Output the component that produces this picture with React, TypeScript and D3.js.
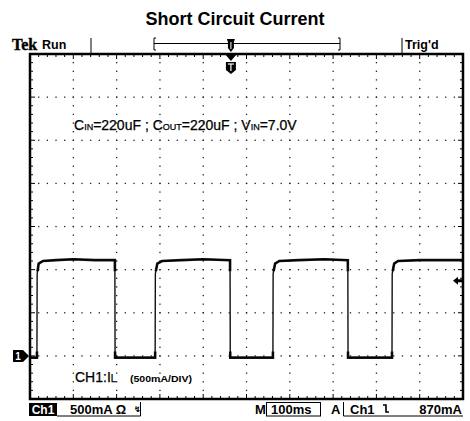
import React from "react";
import { scaleLinear, line, range } from "d3";

// trace: time in ms, current in A
const traceTime = [0, 16, 16.5, 20, 30, 60, 100, 150, 196, 196.5, 289, 289.5, 294, 305, 350, 400, 462, 462.5, 561, 561.5, 566, 576, 620, 680, 734, 734.5, 836, 836.5, 841, 850, 900, 1000];
const traceAmps = [-0.02, -0.02, 0.95, 1.07, 1.1, 1.11, 1.12, 1.11, 1.11, -0.02, -0.02, 0.95, 1.07, 1.1, 1.11, 1.12, 1.11, -0.02, -0.02, 0.95, 1.07, 1.1, 1.11, 1.12, 1.11, -0.02, -0.02, 0.95, 1.07, 1.1, 1.11, 1.11];

const hDivs = 10;
const vDivs = 8;
const msPerDiv = 100;
const ampsPerDiv = 0.5;
const groundDiv = 7; // ground marker 7 divs below top
const trigLevel = 0.87;
const trigTime = 464;

const W = 470;
const H = 421;
const left = 30, right = 463, top = 54, bottom = 399;

const x = scaleLinear().domain([0, hDivs * msPerDiv]).range([left, right]);
const y = scaleLinear()
  .domain([-(vDivs - groundDiv) * ampsPerDiv, groundDiv * ampsPerDiv])
  .range([bottom, top]);

const trace = line<number>()
  .x((d, i) => x(traceTime[i]))
  .y((d) => y(d));

const font = "'Liberation Sans', Arial, sans-serif";

export default function App() {
  const dx = (right - left) / hDivs;
  const dy = (bottom - top) / vDivs;
  const minorX = range(0, hDivs * 5 + 1).map((i) => left + (i * dx) / 5);
  const minorY = range(0, vDivs * 5 + 1).map((i) => top + (i * dy) / 5);
  const majX = range(1, hDivs).map((i) => left + i * dx);
  const majY = range(1, vDivs).map((i) => top + i * dy);
  const gy = y(0);
  const ty = y(trigLevel);
  const tx = x(trigTime);
  const tb = 413.5; // bottom bar baseline

  return (
    <svg width={W} height={H} style={{ position: "absolute", left: 0, top: 0, background: "#fff" }}>
      <text x={W / 2} y={25} textAnchor="middle" fontFamily={font} fontWeight="bold" fontSize={18}>
        Short Circuit Current
      </text>

      {/* top status bar */}
      <text x={12} y={50} fontFamily="'Liberation Serif', serif" fontWeight="bold" fontSize={16} stroke="#000" strokeWidth={0.4}>Tek</text>
      <text x={42} y={49} fontFamily={font} fontWeight="bold" fontSize={12.5}>Run</text>
      <line x1={91} x2={91} y1={38} y2={53} stroke="#000" />
      <line x1={402} x2={402} y1={38} y2={53} stroke="#000" />
      <text x={405} y={49} fontFamily={font} fontWeight="bold" fontSize={12.5}>Trig'd</text>
      <line x1={154} x2={340} y1={43.5} y2={43.5} stroke="#000" />
      <path d="M156,38 H154 V50 H156 M338,38 H340 V50 H338" fill="none" stroke="#000" />
      <path d={`M${tx - 4},39 H${tx + 4} L${tx + 3},42 V48 L${tx},52 L${tx - 3},48 V42 Z`} fill="#000" />
      <line x1={tx} x2={tx} y1={42} y2={49} stroke="#fff" />

      {/* graticule dots */}
      {majX.map((gx) =>
        minorY.map((py) => <rect key={`v${gx}-${py}`} x={gx - 0.6} y={py - 0.6} width={1.3} height={1.3} fill="#222" />)
      )}
      {majY.map((gyy) =>
        minorX.map((px) => <rect key={`h${gyy}-${px}`} x={px - 0.6} y={gyy - 0.6} width={1.3} height={1.3} fill="#222" />)
      )}
      {/* border ticks */}
      {minorX.map((px, i) => (
        <g key={`bx${i}`}>
          <line x1={px} x2={px} y1={top} y2={top + (i % 5 === 0 ? 5 : 3)} stroke="#000" />
          <line x1={px} x2={px} y1={bottom} y2={bottom - (i % 5 === 0 ? 5 : 3)} stroke="#000" />
        </g>
      ))}
      {minorY.map((py, i) => (
        <g key={`by${i}`}>
          <line x1={left} x2={left + (i % 5 === 0 ? 5 : 3)} y1={py} y2={py} stroke="#000" />
          <line x1={right} x2={right - (i % 5 === 0 ? 5 : 3)} y1={py} y2={py} stroke="#000" />
        </g>
      ))}
      <rect x={left} y={top} width={right - left} height={bottom - top} fill="none" stroke="#000" strokeWidth={2.5} />

      {/* annotations */}
      <text x={74} y={130} fontFamily={font} fontSize={14} stroke="#000" strokeWidth={0.25}>
        C<tspan fontSize={9}>IN</tspan>=220uF ; C<tspan fontSize={9}>OUT</tspan>=220uF ; V<tspan fontSize={9}>IN</tspan>=7.0V
      </text>
      <text x={75} y={382} fontFamily={font} fontSize={14} stroke="#000" strokeWidth={0.25}>
        CH1:I<tspan fontSize={10}>L</tspan>
      </text>
      <text x={130} y={382} fontFamily={font} fontSize={9} fontWeight="bold" textLength={62} lengthAdjust="spacingAndGlyphs">
        (500mA/DIV)
      </text>

      {/* trace */}
      <path d={trace(traceAmps) ?? ""} fill="none" stroke="#111" strokeWidth={1.4} />
      <path d={trace(traceAmps) ?? ""} fill="none" stroke="#000" strokeWidth={2.6} clipPath="url(#hz)" opacity={0.9} />
      <defs>
        <clipPath id="hz">
          <rect x={left} y={y(1.2)} width={right - left} height={y(0.98) - y(1.2)} />
          <rect x={left} y={y(0.05)} width={right - left} height={y(-0.08) - y(0.05)} />
        </clipPath>
      </defs>

      {/* ground marker and trigger markers */}
      <path d={`M13,${gy - 6} H23 L29,${gy} L23,${gy + 6} H13 Z`} fill="#000" />
      <text x={18} y={gy + 4} textAnchor="middle" fill="#fff" fontFamily={font} fontWeight="bold" fontSize={10}>1</text>
      <path d={`M453,${ty} L458,${ty - 4} V${ty - 1.5} H462 V${ty + 1.5} H458 V${ty + 4} Z`} fill="#000" />
      <path d={`M${tx - 6},${top} H${tx + 6} L${tx},${top + 7} Z`} fill="#000" />
      <path d={`M${tx - 5},${top + 8} H${tx + 5} V${top + 16} L${tx},${top + 20} L${tx - 5},${top + 16} Z`} fill="#000" />
      <line x1={tx} x2={tx} y1={top + 10} y2={top + 17} stroke="#fff" strokeWidth={1.2} />
      <line x1={tx - 3} x2={tx + 3} y1={top + 10} y2={top + 10} stroke="#fff" strokeWidth={1.2} />

      {/* bottom status bar */}
      <rect x={29} y={403} width={28} height={13} fill="#000" />
      <text x={43} y={tb} textAnchor="middle" fill="#fff" fontFamily={font} fontWeight="bold" fontSize={12}>Ch1</text>
      <path d="M57,416 H140.5 V402" fill="none" stroke="#000" />
      <text x={70} y={tb} fontFamily={font} fontWeight="bold" fontSize={13}>500mA Ω</text>
      <text x={134} y={tb - 2} fontFamily={font} fontWeight="bold" fontSize={8}>↯</text>
      <text x={255} y={tb} fontFamily={font} fontWeight="bold" fontSize={13}>M</text>
      <rect x={266.5} y={402.5} width={54} height={13.5} fill="none" stroke="#000" />
      <text x={271} y={tb} fontFamily={font} fontWeight="bold" fontSize={13}>100ms</text>
      <text x={331} y={tb} fontFamily={font} fontWeight="bold" fontSize={13}>A</text>
      <path d="M343.5,402 V416 H463" fill="none" stroke="#000" />
      <text x={350} y={tb} fontFamily={font} fontWeight="bold" fontSize={13}>Ch1</text>
      <path d="M383,405 H386 V412 H389" fill="none" stroke="#000" strokeWidth={1.6} />
      <text x={462} y={tb} textAnchor="end" fontFamily={font} fontWeight="bold" fontSize={13}>870mA</text>
    </svg>
  );
}
